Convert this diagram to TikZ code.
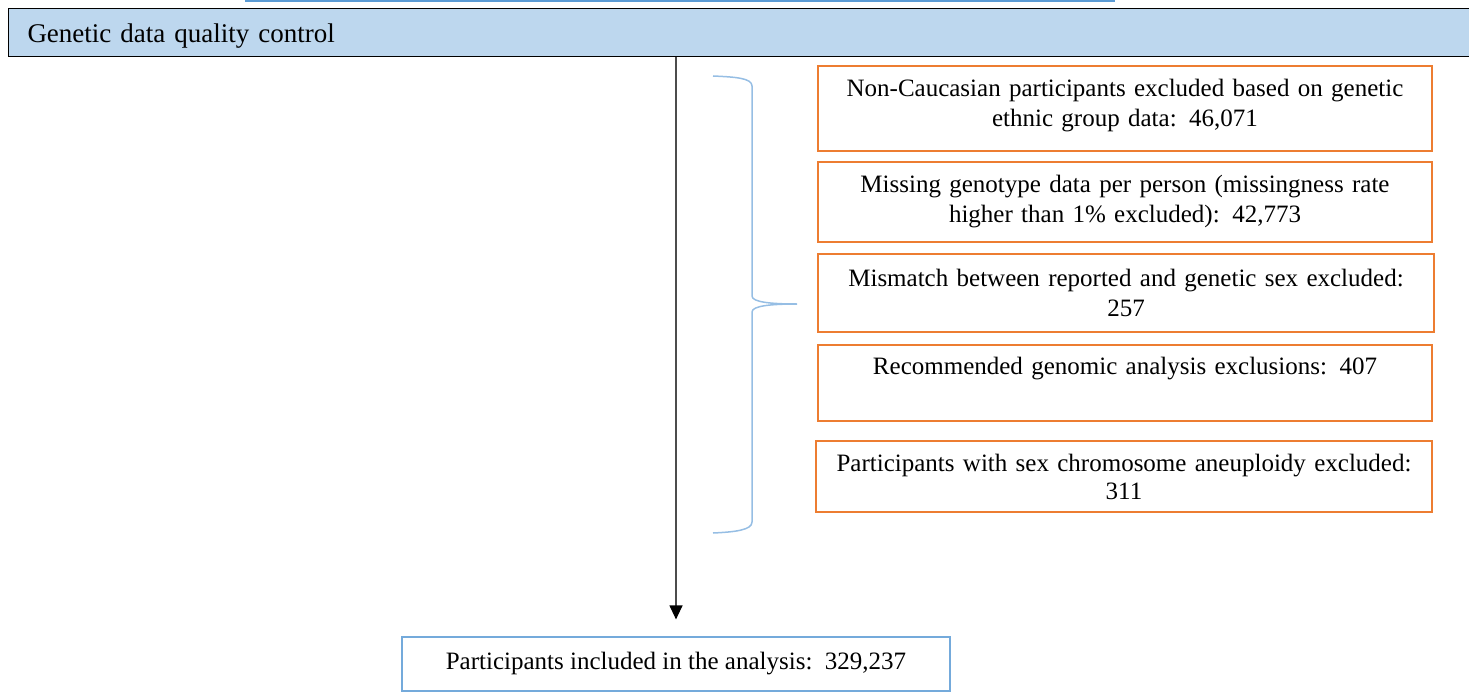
\documentclass[tikz,border=0pt]{standalone}
\usepackage{fontspec}
\setmainfont{Liberation Serif}
\usetikzlibrary{arrows.meta}

\definecolor{hdrblue}{RGB}{189,215,238}
\definecolor{lineblue}{RGB}{91,155,213}
\definecolor{braceblue}{RGB}{150,190,228}
\definecolor{exclorange}{RGB}{237,125,49}

\tikzset{
  exclbox/.style={draw=exclorange, line width=1.6pt, minimum width=614pt,
    text width=600pt, align=center, inner sep=0pt,
    font=\fontsize{25}{30}\selectfont},
}

\begin{document}
\begin{tikzpicture}[x=1pt,y=-1pt]
  \useasboundingbox (0,0) rectangle (1469,695);

  % Edge of the box above
  \draw[lineblue, line width=2pt] (245,1) -- (1115,1);

  % Header
  \node[draw=black, fill=hdrblue, line width=1pt, anchor=north west,
    minimum height=48pt, inner xsep=19pt, text width=1432pt,
    text height=22pt, text depth=2pt,
    align=left, font=\fontsize{27}{30}\selectfont]
    (hdr) at (8,8) {Genetic data quality control};

  % Exclusion boxes
  \node[exclbox, minimum height=85pt, text depth=41pt] (ex1) at (1125,108.5)
    {Non-Caucasian participants excluded based on genetic\\ethnic group data: 46,071};
  \node[exclbox, minimum height=80pt] (ex2) at (1125,202)
    {Missing genotype data per person (missingness rate\\higher than 1\% excluded): 42,773};
  \node[exclbox, minimum height=78pt, minimum width=616pt] (ex3) at (1126,293)
    {Mismatch between reported and genetic sex excluded:\\257};
  \node[exclbox, minimum height=76pt, text depth=34pt] (ex4) at (1125,383)
    {Recommended genomic analysis exclusions: 407\\\mbox{}};
  \node[exclbox, minimum height=71pt, minimum width=616pt,
    font=\fontsize{25}{28}\selectfont] (ex5) at (1124,476.5)
    {Participants with sex chromosome aneuploidy excluded:\\311};

  % Included
  \node[draw=lineblue!85, line width=1.2pt, minimum width=548pt, minimum height=54pt,
    font=\fontsize{25}{30}\selectfont] (incl) at (676,664)
    {Participants included in the analysis:\ \ 329,237};

  % Main flow
  \draw[black!70, line width=1.2pt, -{Triangle[width=13pt,length=14pt,black]}, shorten >=17pt]
    (incl.north |- hdr.south) -- (incl.north);

  % Brace
  \coordinate (brtip) at (797,304);
  \draw[braceblue, line width=1.5pt]
    (713,76) .. controls (735,77) and (752,78) .. (752,86) -- (752,296)
    .. controls (752,302) and (770,304) .. (brtip)
    .. controls (770,304) and (752,306) .. (752,312) -- (752,522)
    .. controls (752,530) and (735,532) .. (713,533);
\end{tikzpicture}
\end{document}
